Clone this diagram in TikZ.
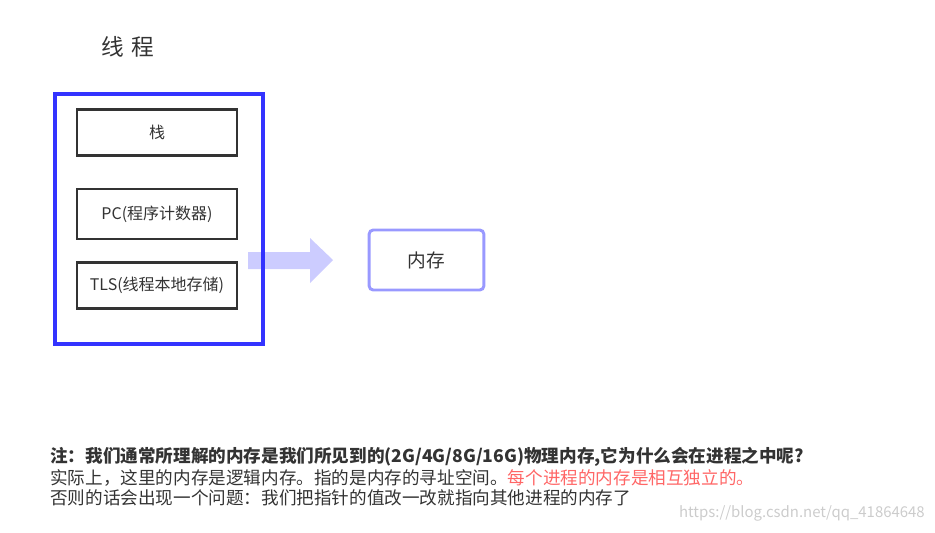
\documentclass[tikz,border=0pt]{standalone}
\usepackage{fontspec}
\newfontfamily\cjk{Noto Sans CJK SC}
\usepackage{tikz}
\definecolor{threadblue}{HTML}{3333FF}
\definecolor{partgray}{HTML}{333333}
\definecolor{arrowfill}{HTML}{CCCCFF}
\definecolor{memblue}{HTML}{9999FF}
\definecolor{notered}{HTML}{FF6666}
\definecolor{markgray}{HTML}{CCCCCC}

\begin{document}
\begin{tikzpicture}[x=0.75pt,y=-0.75pt,
  part/.style={draw=partgray,line width=2.2pt,minimum width=120pt,minimum height=35pt,
    text=partgray,font=\cjk\fontsize{12}{14}\selectfont},
  note/.style={anchor=west,inner sep=0pt,text=partgray,font=\cjk\fontsize{13.2}{15}\selectfont}]
  \useasboundingbox (0,0) rectangle (935,532);
  \node[text=partgray,font=\cjk\fontsize{17}{19}\selectfont] (title) at (128,47) {线\,\,程};
  % arrow from thread to memory
  \coordinate (tail) at (248,260);
  \coordinate (tip) at (333,260);
  \fill[arrowfill] (tail) ++(0,-8) -- (310,252) -- (310,238) -- (tip) -- (310,283)
    -- (310,269) -- ++(-62,0) -- cycle;
  \node[draw=threadblue,line width=2.6pt,minimum width=156pt,minimum height=187.5pt] (thread) at (159,219) {};
  \node[part] (stack) at (157,132.5) {栈};
  \node[part,minimum height=37.5pt] (pc) at (157,214) {PC(程序计数器)};
  \node[part] (tls) at (157,285.5) {TLS(线程本地存储)};
  \node[draw=memblue,line width=2.2pt,rounded corners=3pt,minimum width=86pt,minimum height=45pt,
    text=partgray,font=\cjk\fontsize{14}{16}\selectfont] (mem) at (426.5,260) {内存};
  % notes
  \node[note,font=\cjk\bfseries\fontsize{13.2}{15}\selectfont] (note1) at (50,457)
    {注：我们通常所理解的内存是我们所见到的(2G/4G/8G/16G)物理内存,它为什么会在进程之中呢?};
  \node[note] (note2) at (50,478)
    {实际上，这里的内存是逻辑内存。指的是内存的寻址空间。{\color{notered}每个进程的内存是相互独立的。}};
  \node[note] (note3) at (50,498)
    {否则的话会出现一个问题：我们把指针的值改一改就指向其他进程的内存了};
  \node[anchor=east,inner sep=0pt,text=markgray,font=\cjk\fontsize{11.2}{13}\selectfont] (mark) at (925,513)
    {https://blog.csdn.net/qq\_41864648};
\end{tikzpicture}
\end{document}
